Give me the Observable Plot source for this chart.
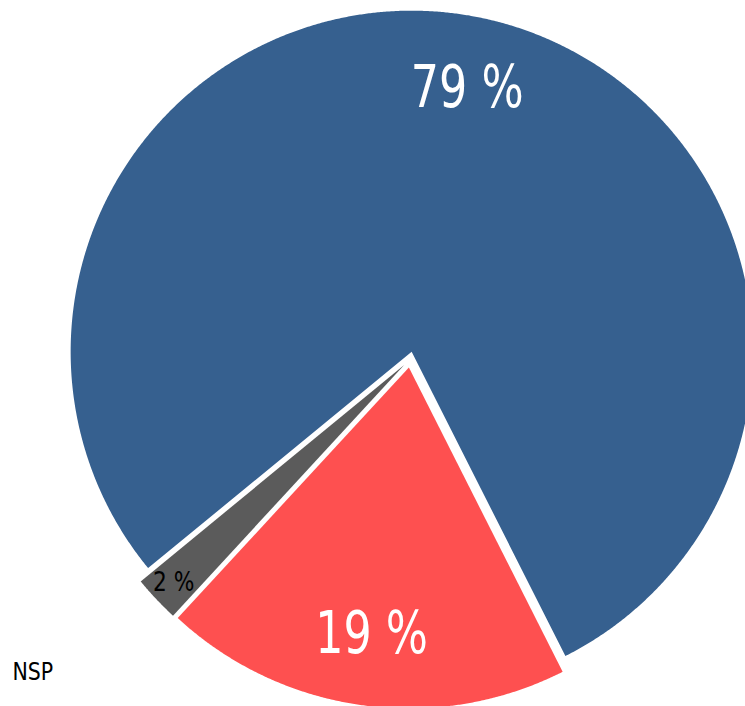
<!DOCTYPE html>
<html>
<head>
<meta charset="utf-8">
<script src="https://cdn.jsdelivr.net/npm/d3@7"></script>
<script src="https://cdn.jsdelivr.net/npm/@observablehq/plot@0.6"></script>
<style>
  html, body { margin: 0; padding: 0; background: #ffffff; }
  #chart svg { display: block; overflow: hidden; }
</style>
</head>
<body>
<div id="chart"></div>
<script>
// ---- data ----
const categories = ["Oui", "Non", "NSP"];
const values = [78.5, 19.3, 2.2];
const sliceColors = ["#36608f", "#fe5050", "#5b5b5b"];
const labelColors = ["#ffffff", "#ffffff", "#000000"];
const legendText = "NSP";

// ---- layout constants ----
const W = 745, H = 706;
const cx = 409.5, cy = 359, R = 341, explode = 8;
const startDeg = -129.4;
const FONT = "'DejaVu Sans Condensed', 'DejaVu Sans', sans-serif";

const rows = categories.map((c, i) => ({cat: c, value: values[i], color: sliceColors[i], labelColor: labelColors[i]}));
const a0 = startDeg * Math.PI / 180;
const arcs = d3.pie().sort(null).value(d => d.value).startAngle(a0).endAngle(a0 + 2 * Math.PI)(rows);

const slices = arcs.map(a => {
  const mid = (a.startAngle + a.endAngle) / 2;
  const ox = cx + explode * Math.sin(mid), oy = cy - explode * Math.cos(mid);
  const pts = [{x: ox, y: oy}];
  const n = Math.max(4, Math.ceil((a.endAngle - a.startAngle) / (Math.PI / 720)));
  for (let k = 0; k <= n; k++) {
    const t = a.startAngle + (a.endAngle - a.startAngle) * k / n;
    pts.push({x: ox + R * Math.sin(t), y: oy - R * Math.cos(t)});
  }
  pts.push({x: ox, y: oy});
  const share = a.data.value / d3.sum(values);
  const lr = share < 0.05 ? 0.93 : 0.79;
  const label = {
    x: ox + lr * R * Math.sin(mid),
    y: oy - lr * R * Math.cos(mid),
    text: Math.round(a.data.value) + " %",
    big: share >= 0.05,
    color: a.data.labelColor
  };
  return {pts, color: a.data.color, label};
});

const labels = slices.map(s => s.label);

const chart = Plot.plot({
  width: W,
  height: H,
  margin: 0,
  x: {domain: [0, W], range: [0, W], axis: null},
  y: {domain: [0, H], range: [0, H], axis: null},
  style: {background: "#ffffff", overflow: "hidden"},
  marks: [
    ...slices.map(s => Plot.line(s.pts, {x: "x", y: "y", fill: s.color, stroke: "none", curve: "linear"})),
    Plot.text(labels.filter(d => d.big), {
      x: "x", y: "y", text: "text", fill: "color",
      fontSize: 58, fontFamily: FONT, textAnchor: "middle", lineAnchor: "middle"
    }),
    Plot.text(labels.filter(d => !d.big), {
      x: "x", y: "y", text: "text", fill: "color",
      fontSize: 26, fontFamily: FONT, textAnchor: "middle", lineAnchor: "middle"
    }),
    Plot.text([legendText], {
      x: () => 12, y: () => 679, text: d => d,
      fill: "#000000", fontSize: 25, fontFamily: FONT, textAnchor: "start", lineAnchor: "bottom"
    })
  ]
});
document.getElementById("chart").appendChild(chart);

// horizontally condense the text (the reference uses a narrower face)
const squeeze = [0.85, 0.93, 0.91];
chart.querySelectorAll('g[aria-label="text"]').forEach((g, i) => {
  g.querySelectorAll("text").forEach(t => {
    const len = t.getComputedTextLength();
    if (len > 0) {
      t.setAttribute("textLength", (len * squeeze[i]).toFixed(1));
      t.setAttribute("lengthAdjust", "spacingAndGlyphs");
    }
  });
});
</script>
</body>
</html>
